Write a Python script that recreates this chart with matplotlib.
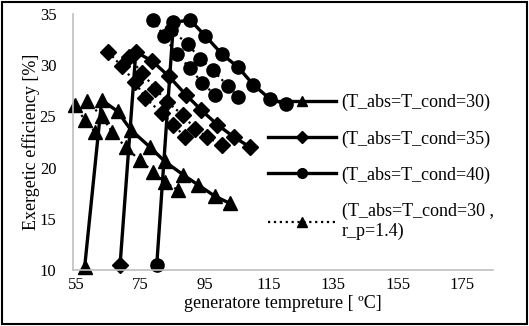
import matplotlib.pyplot as plt
from matplotlib.lines import Line2D
from matplotlib.patches import Rectangle

plt.rcParams['font.family'] = ['Liberation Serif', 'DejaVu Serif']

# T_abs = T_cond = 30 (triangles)
tri_x = [57.7, 63.0, 67.9, 72.0, 78.0, 82.6, 88.3, 93.0, 98.2, 102.9]
tri_y = [10.3, 26.6, 25.5, 23.7, 22.0, 20.6, 19.3, 18.3, 17.2, 16.5]
tri_r14_x = [58.5, 63.0, 66.2, 70.4, 74.9, 79.0, 82.6, 86.7]
tri_r14_y = [26.5, 25.0, 23.5, 22.0, 20.7, 19.6, 18.6, 17.8]
tri_low_x = [54.7, 57.8, 60.9]
tri_low_y = [26.1, 24.6, 23.5]

# T_abs = T_cond = 35 (diamonds)
dia_x = [68.7, 73.6, 78.7, 83.9, 89.2, 94.0, 98.9, 104.0, 109.1]
dia_y = [10.5, 31.3, 30.4, 28.9, 27.1, 25.6, 24.2, 23.0, 22.0]
dia_mid_x = [71.5, 75.6, 79.7, 83.4, 88.3, 92.0, 95.7, 100.4]
dia_mid_y = [30.8, 29.2, 27.7, 26.4, 25.1, 23.8, 23.0, 22.2]
dia_low_x = [65.0, 69.2, 73.2, 76.6, 81.7, 85.2, 88.9]
dia_low_y = [31.3, 29.9, 28.4, 26.8, 25.3, 24.2, 23.0]

# T_abs = T_cond = 40 (circles)
cir_x = [80.1, 85.3, 90.5, 95.1, 100.3, 105.4, 110.1, 115.3, 120.4]
cir_y = [10.5, 34.2, 34.4, 32.9, 31.1, 29.8, 28.1, 26.7, 26.2]
cir_mid_x = [84.5, 89.7, 93.6, 97.6, 102.1, 105.4]
cir_mid_y = [33.4, 32.1, 30.6, 29.5, 28.0, 26.9]
cir_low_x = [79.0, 82.2, 86.3, 90.5, 94.1, 98.2]
cir_low_y = [34.4, 32.9, 31.1, 29.7, 28.3, 27.1]

x_ticks = [55, 75, 95, 115, 135, 155, 175]
y_ticks = [10, 15, 20, 25, 30, 35]

W, H = 529, 326
fig = plt.figure(figsize=(W / 100, H / 100), dpi=100)
ax = fig.add_axes([73 / W, 1 - 270 / H, (493 - 73) / W, (270 - 14) / H])

dotted = dict(color='black', ls=':', lw=1.6, clip_on=False)
solid = dict(color='black', ls='-', lw=2.4, clip_on=False)
tri_ms, dia_ms, cir_ms = 10.5, 8.5, 9.5

ax.plot(tri_low_x, tri_low_y, marker='^', ms=tri_ms, **dotted)
ax.plot(tri_r14_x, tri_r14_y, marker='^', ms=tri_ms, **dotted)
ax.plot(dia_low_x, dia_low_y, marker='D', ms=dia_ms, **dotted)
ax.plot(dia_mid_x, dia_mid_y, marker='D', ms=dia_ms, **dotted)
ax.plot(cir_low_x, cir_low_y, marker='o', ms=cir_ms, **dotted)
ax.plot(cir_mid_x, cir_mid_y, marker='o', ms=cir_ms, **dotted)

ax.plot(tri_x, tri_y, marker='^', ms=tri_ms, **solid)
ax.plot(dia_x, dia_y, marker='D', ms=dia_ms, **solid)
ax.plot(cir_x, cir_y, marker='o', ms=cir_ms, **solid)

ax.set_xlim(54.07, 184.6)
ax.set_ylim(10, 35)
ax.set_xticks(x_ticks)
ax.set_yticks(y_ticks)
ax.tick_params(length=0, labelsize=12)
ax.tick_params(axis='y', pad=12)
ax.tick_params(axis='x', pad=5)
for s in ['top', 'right']:
    ax.spines[s].set_visible(False)
for s in ['left', 'bottom']:
    ax.spines[s].set_color('#BFBFBF')
    ax.spines[s].set_linewidth(1.2)

fig.text(31 / W, 1 - 142 / H, 'Exergetic efficiency [%]', rotation=90,
         ha='center', va='center', fontsize=13)
fig.text(283 / W, 1 - 304 / H, 'generatore tempreture [ \u00baC]',
         ha='center', va='center', fontsize=13)

handles = [
    Line2D([], [], marker='^', ms=7, **solid),
    Line2D([], [], marker='D', ms=6, **solid),
    Line2D([], [], marker='o', ms=7, **solid),
    Line2D([], [], marker='^', ms=7, **dotted),
]
labels = ['(T_abs=T_cond=30)', '(T_abs=T_cond=35)', '(T_abs=T_cond=40)',
          '(T_abs=T_cond=30 ,\nr_p=1.4)']
ax.legend(handles, labels, loc='upper left', bbox_to_anchor=(268 / W, 1 - 94 / H),
          bbox_transform=fig.transFigure, frameon=False, fontsize=13,
          handlelength=3.75, handletextpad=0.33, labelspacing=1.05,
          borderpad=0, borderaxespad=0, numpoints=1)

fig.patches.append(Rectangle((2 / W, 2 / H), 1 - 4 / W, 1 - 4 / H,
                             transform=fig.transFigure, fill=False,
                             ec='black', lw=1.5))

fig.savefig('out.png', dpi=100)
